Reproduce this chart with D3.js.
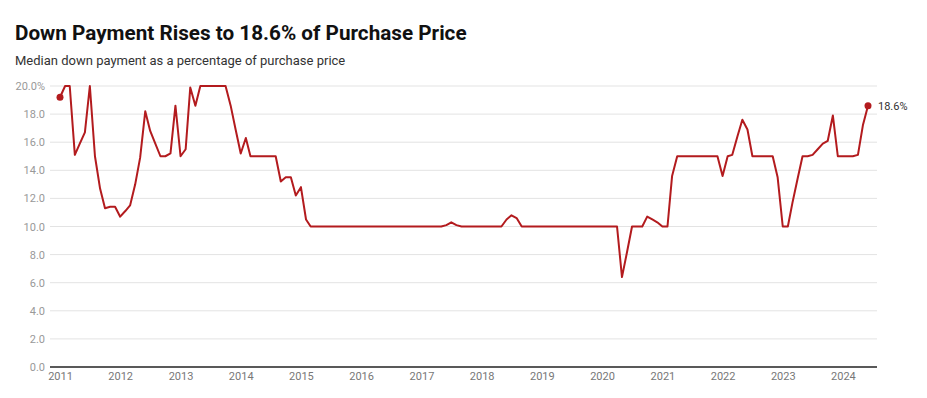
<!DOCTYPE html>
<html>
<head>
<meta charset="utf-8">
<script src="https://cdn.jsdelivr.net/npm/d3@7"></script>
<style>
  body { margin:0; background:#fff; font-family: Roboto, "Noto Sans", sans-serif; }
  svg { display:block; }
</style>
</head>
<body>
<svg id="chart" width="927" height="398"></svg>
<script>
// monthly values, Jan 2011 .. Jun 2024
const startMonth = new Date(2011, 0, 1)
const endMonth = new Date(2024, 5, 1)
const downPct = [
  19.2, 20.0, 20.0, 15.1, 15.9, 16.7, 20.0, 15.0, 12.7, 11.3, 11.4, 11.4,
  10.7, 11.1, 11.5, 13.0, 14.9, 18.2, 16.8, 15.9, 15.0, 15.0, 15.2, 18.6,
  15.0, 15.5, 19.9, 18.6, 20.0, 20.0, 20.0, 20.0, 20.0, 20.0, 18.6, 16.9,
  15.2, 16.3, 15.0, 15.0, 15.0, 15.0, 15.0, 15.0, 13.2, 13.5, 13.5, 12.2,
  12.8, 10.5, 10.0, 10.0, 10.0, 10.0, 10.0, 10.0, 10.0, 10.0, 10.0, 10.0,
  10.0, 10.0, 10.0, 10.0, 10.0, 10.0, 10.0, 10.0, 10.0, 10.0, 10.0, 10.0,
  10.0, 10.0, 10.0, 10.0, 10.0, 10.1, 10.3, 10.1, 10.0, 10.0, 10.0, 10.0,
  10.0, 10.0, 10.0, 10.0, 10.0, 10.5, 10.8, 10.6, 10.0, 10.0, 10.0, 10.0,
  10.0, 10.0, 10.0, 10.0, 10.0, 10.0, 10.0, 10.0, 10.0, 10.0, 10.0, 10.0,
  10.0, 10.0, 10.0, 10.0, 6.4, 8.2, 10.0, 10.0, 10.0, 10.7, 10.5, 10.3,
  10.0, 10.0, 13.6, 15.0, 15.0, 15.0, 15.0, 15.0, 15.0, 15.0, 15.0, 15.0,
  13.6, 15.0, 15.1, 16.4, 17.6, 16.9, 15.0, 15.0, 15.0, 15.0, 15.0, 13.5,
  10.0, 10.0, 11.7, 13.4, 15.0, 15.0, 15.1, 15.5, 15.9, 16.1, 17.9, 15.0,
  15.0, 15.0, 15.0, 15.1, 17.2, 18.6
]
const yTicks = [0, 2, 4, 6, 8, 10, 12, 14, 16, 18, 20]
const yearTicks = d3.range(2011, 2025)

const title = "Down Payment Rises to 18.6% of Purchase Price"
const subtitle = "Median down payment as a percentage of purchase price"

const months = d3.timeMonth.range(startMonth, d3.timeMonth.offset(endMonth, 1))
const data = months.map((d, i) => ({date: d, value: downPct[i]}))

let svg = d3.select("#chart")

const x = d3.scaleTime()
  .domain([startMonth, endMonth])
  .range([60, 868])
const y = d3.scaleLinear()
  .domain([0, 20])
  .range([367, 86])

svg.append("text")
  .attr("x", 15).attr("y", 40)
  .attr("font-size", 20.7).attr("font-weight", "bold").attr("fill", "#111")
  .text(title)
svg.append("text")
  .attr("x", 15).attr("y", 65)
  .attr("font-size", 13).attr("fill", "#333")
  .text(subtitle)

// gridlines
svg.append("g")
  .selectAll("line")
  .data(yTicks.filter(d => d > 0))
  .enter()
  .append("line")
  .attr("x1", 50).attr("x2", 877)
  .attr("y1", d => y(d)).attr("y2", d => y(d))
  .attr("stroke", "#e3e3e3").attr("stroke-width", 1)

// y axis labels
const yAxis = d3.axisLeft(y)
  .tickValues(yTicks)
  .tickSize(0)
  .tickPadding(0)
  .tickFormat(d => d === 20 ? d3.format(".1f")(d) + "%" : d3.format(".1f")(d))
svg.append("g")
  .attr("transform", "translate(45,0)")
  .call(yAxis)
  .call(g => g.select(".domain").remove())
  .selectAll("text")
  .attr("font-family", "Roboto, sans-serif")
  .attr("font-size", 11).attr("fill", "#999")

// x axis
const xAxis = d3.axisBottom(x)
  .tickValues(yearTicks.map(yr => new Date(yr, 0, 1)))
  .tickFormat(d3.timeFormat("%Y"))
  .tickSize(0)
  .tickPadding(5)
svg.append("g")
  .attr("transform", "translate(0,367)")
  .call(xAxis)
  .call(g => g.select(".domain").remove())
  .selectAll("text")
  .attr("font-family", "Roboto, sans-serif")
  .attr("font-size", 11).attr("fill", "#777")

svg.append("line")
  .attr("x1", 50).attr("x2", 877)
  .attr("y1", y(0)).attr("y2", y(0))
  .attr("stroke", "#222").attr("stroke-width", 1.3)

const line = d3.line()
  .x(d => x(d.date))
  .y(d => y(d.value))

svg.append("path")
  .datum(data)
  .attr("d", line)
  .attr("fill", "none")
  .attr("stroke", "#b31b1e")
  .attr("stroke-width", 2)
  .attr("stroke-linejoin", "round")

const ends = [data[0], data[data.length - 1]]
svg.selectAll("circle.end")
  .data(ends)
  .enter()
  .append("circle")
  .attr("class", "end")
  .attr("cx", d => x(d.date)).attr("cy", d => y(d.value))
  .attr("r", 3.5)
  .attr("fill", "#b31b1e")

const last = data[data.length - 1]
svg.append("text")
  .attr("x", x(last.date) + 10).attr("y", y(last.value) + 4)
  .attr("font-size", 11).attr("fill", "#333")
  .text(d3.format(".1f")(last.value) + "%")
</script>
</body>
</html>
